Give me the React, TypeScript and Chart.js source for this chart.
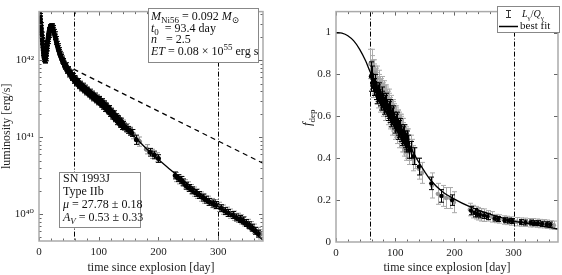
import React, { useEffect, useRef } from 'react';
import { Chart, registerables } from 'chart.js';
Chart.register(...registerables);

const SERIF = '"Liberation Serif", "DejaVu Serif", serif';

// ---------- shared axis values ----------
const timeTicks = [0, 100, 200, 300];
const lumTicks = [1e40, 1e41, 1e42];
const fdepTicks = [0, 0.2, 0.4, 0.6, 0.8, 1];
const markerDays = [58, 300];

// ---------- left panel: luminosity (day, L [erg/s], error in dex) ----------
const lumEarly: [number, number, number][] = [
  [0.5, 4.4e42, 0.035], [1, 4.1e42, 0.035], [1.5, 3.75e42, 0.035], [2, 3.45e42, 0.035], [2.5, 3.15e42, 0.035],
  [3, 2.85e42, 0.035], [3.5, 2.6e42, 0.035], [4, 2.35e42, 0.035], [4.5, 2.15e42, 0.035], [5, 1.95e42, 0.035],
  [5.5, 1.78e42, 0.035], [6, 1.62e42, 0.035], [6.5, 1.48e42, 0.035], [7, 1.36e42, 0.035], [7.5, 1.25e42, 0.035],
  [8, 1.16e42, 0.035], [8.5, 1.09e42, 0.035], [9, 1.04e42, 0.035], [9.5, 1.01e42, 0.035], [10, 1.0e42, 0.035],
  [10.5, 1.02e42, 0.035], [11, 1.07e42, 0.035], [11.5, 1.14e42, 0.035], [12, 1.23e42, 0.035], [12.5, 1.33e42, 0.035],
  [13, 1.44e42, 0.035], [13.5, 1.55e42, 0.035], [14, 1.67e42, 0.035], [14.5, 1.79e42, 0.035], [15, 1.91e42, 0.035],
  [15.5, 2.03e42, 0.035], [16, 2.15e42, 0.035], [16.5, 2.26e42, 0.035], [17, 2.37e42, 0.035], [17.5, 2.47e42, 0.035],
  [18, 2.56e42, 0.035], [18.5, 2.63e42, 0.035], [19, 2.69e42, 0.035], [19.5, 2.73e42, 0.035], [20, 2.75e42, 0.035],
  [21, 2.76e42, 0.035], [22, 2.72e42, 0.035], [23, 2.62e42, 0.035], [24, 2.48e42, 0.035], [25, 2.33e42, 0.035],
  [26, 2.17e42, 0.035], [27, 2.02e42, 0.035], [28, 1.88e42, 0.035], [29, 1.75e42, 0.035], [30, 1.63e42, 0.035],
  [31, 1.52e42, 0.035], [32, 1.43e42, 0.035], [33, 1.35e42, 0.035], [34, 1.28e42, 0.035], [35, 1.21e42, 0.035],
  [36, 1.15e42, 0.035], [37, 1.1e42, 0.035], [38, 1.05e42, 0.035], [39, 1.0e42, 0.035],
];
const lumMid: [number, number, number][] = [
  [40, 9.6e41, 0.035], [42, 9.0e41, 0.035], [44, 8.45e41, 0.035], [46, 7.95e41, 0.035], [48, 7.5e41, 0.035],
  [50, 7.1e41, 0.035], [52, 6.75e41, 0.035], [54, 6.4e41, 0.035], [56, 6.1e41, 0.035], [58, 5.85e41, 0.035],
  [60, 5.6e41, 0.035], [62, 5.4e41, 0.035], [64, 5.2e41, 0.035], [66, 5.0e41, 0.035], [68, 4.8e41, 0.035],
  [70, 4.65e41, 0.035], [72, 4.5e41, 0.035], [74, 4.38e41, 0.035], [76, 4.25e41, 0.035], [78, 4.13e41, 0.035],
  [80, 4.0e41, 0.035], [82, 3.88e41, 0.035], [84, 3.77e41, 0.035], [86, 3.66e41, 0.035], [88, 3.55e41, 0.035],
  [90, 3.45e41, 0.035], [92, 3.35e41, 0.035], [94, 3.25e41, 0.035], [96, 3.16e41, 0.035], [98, 3.07e41, 0.035],
  [100, 2.98e41, 0.04], [102, 2.9e41, 0.04], [104, 2.8e41, 0.04], [106, 2.72e41, 0.04], [108, 2.63e41, 0.04],
  [110, 2.55e41, 0.04], [112, 2.47e41, 0.04], [114, 2.38e41, 0.04], [116, 2.3e41, 0.04], [118, 2.2e41, 0.04],
  [120, 2.12e41, 0.04], [122, 2.04e41, 0.04], [124, 1.96e41, 0.04], [126, 1.88e41, 0.04], [128, 1.8e41, 0.04],
  [130, 1.73e41, 0.045], [132, 1.67e41, 0.045], [134, 1.61e41, 0.045], [136, 1.55e41, 0.045], [138, 1.5e41, 0.045],
  [140, 1.45e41, 0.045], [143, 1.38e41, 0.045], [146, 1.31e41, 0.045], [149, 1.25e41, 0.045], [152, 1.19e41, 0.045],
  [155, 1.14e41, 0.045],
];
// band edges (upper / lower scatter of the dense black band)
const lumMidEdge: [number, number, number][] = [
  [41, 9.75e41, 0.035], [43, 8.3e41, 0.035], [45, 8.6e41, 0.035], [47, 7.35e41, 0.035], [49, 7.65e41, 0.035],
  [51, 6.6e41, 0.035], [53, 6.9e41, 0.035], [55, 5.95e41, 0.035], [57, 6.25e41, 0.035], [59, 5.45e41, 0.035],
  [61, 5.78e41, 0.035], [63, 5.05e41, 0.035], [65, 5.35e41, 0.035], [67, 4.65e41, 0.035], [69, 4.95e41, 0.035],
  [71, 4.35e41, 0.035], [73, 4.66e41, 0.035], [75, 4.1e41, 0.035], [77, 4.4e41, 0.035], [79, 3.86e41, 0.035],
  [81, 4.14e41, 0.035], [83, 3.63e41, 0.035], [85, 3.9e41, 0.035], [87, 3.42e41, 0.035], [89, 3.68e41, 0.035],
  [91, 3.23e41, 0.035], [93, 3.47e41, 0.035], [95, 3.04e41, 0.035], [97, 3.27e41, 0.035], [99, 2.87e41, 0.035],
  [101, 3.09e41, 0.04], [103, 2.71e41, 0.04], [105, 2.9e41, 0.04], [107, 2.54e41, 0.04], [109, 2.72e41, 0.04],
  [111, 2.38e41, 0.04], [113, 2.54e41, 0.04], [115, 2.22e41, 0.04], [117, 2.36e41, 0.04], [119, 2.05e41, 0.04],
  [121, 2.18e41, 0.04], [123, 1.9e41, 0.04], [125, 2.02e41, 0.04], [127, 1.75e41, 0.04], [129, 1.85e41, 0.04],
  [131, 1.62e41, 0.045], [133, 1.72e41, 0.045], [135, 1.5e41, 0.045], [137, 1.6e41, 0.045], [139, 1.4e41, 0.045],
];
const lumLate: [number, number, number][] = [
  [163, 9.3e40, 0.06], [186, 6.4e40, 0.05], [193, 5.9e40, 0.05], [200, 5.3e40, 0.05], [228, 3.2e40, 0.045],
  [233, 2.95e40, 0.045], [237, 2.8e40, 0.045], [241, 2.6e40, 0.045], [246, 2.35e40, 0.045], [251, 2.2e40, 0.045],
  [256, 2.05e40, 0.045], [262, 1.9e40, 0.045], [268, 1.78e40, 0.045], [274, 1.65e40, 0.045], [279, 1.55e40, 0.045],
  [285, 1.45e40, 0.045], [291, 1.38e40, 0.045], [296, 1.32e40, 0.045], [305, 1.2e40, 0.045], [311, 1.1e40, 0.045],
  [317, 1.04e40, 0.045], [324, 9.8e39, 0.045], [330, 9.1e39, 0.045], [336, 8.7e39, 0.045], [341, 8.3e39, 0.045],
  [347, 7.7e39, 0.045], [352, 7.2e39, 0.045], [357, 6.7e39, 0.045], [362, 6.1e39, 0.045], [367, 5.6e39, 0.045],
];
const lumGray: [number, number, number][] = [
  [100, 3.05e41, 0.05], [106, 2.78e41, 0.05], [112, 2.42e41, 0.05], [118, 2.25e41, 0.05], [124, 1.92e41, 0.05],
  [130, 1.78e41, 0.05], [135, 1.58e41, 0.055], [141, 1.48e41, 0.055], [147, 1.33e41, 0.055], [153, 1.2e41, 0.055],
  [158, 1.1e41, 0.06], [168, 8.8e40, 0.06], [180, 7.0e40, 0.06], [190, 6.1e40, 0.06], [198, 5.5e40, 0.06],
  [230, 3.05e40, 0.06], [235, 2.85e40, 0.06], [239, 2.7e40, 0.06], [244, 2.45e40, 0.06], [249, 2.3e40, 0.06],
  [254, 2.12e40, 0.06], [259, 1.97e40, 0.06], [265, 1.85e40, 0.06], [271, 1.7e40, 0.06], [277, 1.6e40, 0.06],
  [283, 1.5e40, 0.06], [289, 1.4e40, 0.06], [294, 1.35e40, 0.06], [302, 1.25e40, 0.06], [308, 1.15e40, 0.06],
  [314, 1.08e40, 0.06], [320, 1.02e40, 0.06], [327, 9.6e39, 0.06], [333, 9.0e39, 0.06], [339, 8.6e39, 0.06],
  [344, 8.1e39, 0.06], [350, 7.5e39, 0.06], [355, 7.0e39, 0.06], [360, 6.5e39, 0.06], [366, 5.9e39, 0.06],
  [370, 5.5e39, 0.06],
];
const lumFitDays = [58, 80, 100, 120, 140, 160, 180, 200, 220, 240, 260, 280, 300, 320, 340, 360, 375];
const lumFitValues = [5.9e41, 4.0e41, 2.95e41, 2.1e41, 1.45e41, 1.02e41, 7.1e40, 5.15e40, 3.8e40, 2.82e40,
  2.14e40, 1.62e40, 1.26e40, 9.8e39, 7.6e39, 5.8e39, 4.6e39];
const fullTrapDays = [58, 375];
const fullTrapValues = [7.7e41, 4.6e40];

// ---------- right panel: deposition fraction (day, f, error) ----------
const fdepGray: [number, number, number][] = [
  [58, 0.85, 0.07], [60, 0.82, 0.07], [62, 0.8, 0.07], [64, 0.78, 0.07], [66, 0.77, 0.07], [68, 0.76, 0.07],
  [70, 0.74, 0.07], [72, 0.73, 0.07], [74, 0.72, 0.07], [76, 0.71, 0.07], [78, 0.7, 0.07], [80, 0.69, 0.07],
  [82, 0.68, 0.07], [84, 0.67, 0.07], [86, 0.66, 0.07], [88, 0.65, 0.07], [90, 0.64, 0.07], [92, 0.62, 0.07],
  [94, 0.61, 0.07], [96, 0.6, 0.07], [98, 0.59, 0.07], [100, 0.58, 0.07], [102, 0.57, 0.07], [104, 0.56, 0.07],
  [106, 0.55, 0.07], [108, 0.54, 0.07], [110, 0.53, 0.07], [112, 0.52, 0.07], [114, 0.5, 0.07], [116, 0.49, 0.07],
  [118, 0.48, 0.07], [120, 0.47, 0.07], [124, 0.45, 0.06], [128, 0.43, 0.06], [133, 0.4, 0.05], [140, 0.35, 0.05],
  [145, 0.33, 0.05], [162, 0.27, 0.06], [172, 0.23, 0.05], [180, 0.22, 0.05], [186, 0.21, 0.05], [193, 0.21, 0.05],
  [199, 0.19, 0.05], [226, 0.155, 0.03], [231, 0.145, 0.03], [236, 0.14, 0.03], [240, 0.135, 0.03], [245, 0.13, 0.03],
  [250, 0.128, 0.03], [256, 0.125, 0.025], [263, 0.12, 0.025], [270, 0.112, 0.02], [276, 0.11, 0.02], [283, 0.105, 0.02],
  [289, 0.103, 0.02], [295, 0.1, 0.02], [305, 0.097, 0.02], [312, 0.095, 0.02], [320, 0.094, 0.02], [327, 0.092, 0.02],
  [333, 0.092, 0.02], [339, 0.09, 0.02], [345, 0.088, 0.02], [351, 0.087, 0.02], [357, 0.085, 0.02], [363, 0.082, 0.02],
  [368, 0.08, 0.02],
];
const fdepGrayEdge: [number, number, number][] = [
  [61, 0.86, 0.06], [63, 0.75, 0.06], [65, 0.81, 0.06], [67, 0.72, 0.06], [69, 0.78, 0.06], [71, 0.7, 0.06],
  [73, 0.76, 0.06], [75, 0.68, 0.06], [77, 0.73, 0.06], [79, 0.66, 0.06], [81, 0.71, 0.06], [83, 0.64, 0.06],
  [85, 0.69, 0.06], [87, 0.62, 0.06], [89, 0.67, 0.06], [91, 0.6, 0.06], [93, 0.64, 0.06], [95, 0.57, 0.06],
  [97, 0.62, 0.06], [99, 0.55, 0.06], [101, 0.59, 0.06], [103, 0.53, 0.06], [105, 0.57, 0.06], [107, 0.51, 0.06],
  [109, 0.55, 0.06], [111, 0.49, 0.06], [113, 0.53, 0.06], [115, 0.47, 0.06], [117, 0.5, 0.06], [119, 0.45, 0.06],
  [121, 0.48, 0.06], [123, 0.43, 0.06], [126, 0.45, 0.06], [130, 0.4, 0.06],
];
const fdepBlack: [number, number, number][] = [
  [59, 0.79, 0.07], [62, 0.76, 0.04], [65, 0.74, 0.04], [68, 0.72, 0.04], [71, 0.71, 0.04], [74, 0.69, 0.04],
  [77, 0.68, 0.04], [80, 0.67, 0.04], [83, 0.66, 0.04], [86, 0.64, 0.04], [89, 0.63, 0.04], [92, 0.61, 0.04],
  [95, 0.6, 0.04], [98, 0.58, 0.04], [101, 0.57, 0.04], [104, 0.55, 0.04], [107, 0.54, 0.04], [110, 0.52, 0.04],
  [113, 0.51, 0.04], [116, 0.49, 0.04], [119, 0.48, 0.04], [122, 0.47, 0.04], [126, 0.44, 0.04], [131, 0.41, 0.04],
  [140, 0.36, 0.04], [161, 0.28, 0.03], [178, 0.22, 0.03], [196, 0.2, 0.025], [228, 0.15, 0.02], [234, 0.14, 0.02],
  [238, 0.135, 0.015], [243, 0.13, 0.015], [250, 0.127, 0.015], [256, 0.122, 0.015], [268, 0.112, 0.012],
  [274, 0.11, 0.012], [285, 0.104, 0.012], [292, 0.102, 0.012], [298, 0.1, 0.012], [312, 0.095, 0.012],
  [320, 0.093, 0.012], [329, 0.093, 0.012], [335, 0.09, 0.012], [341, 0.09, 0.012], [348, 0.087, 0.012],
  [356, 0.085, 0.012], [362, 0.083, 0.012],
];
const fdepBlackEdge: [number, number, number][] = [
  [60.5, 0.8, 0.04], [63.5, 0.74, 0.04], [66.5, 0.76, 0.04], [69.5, 0.7, 0.04], [72.5, 0.72, 0.04], [75.5, 0.67, 0.04],
  [78.5, 0.7, 0.04], [81.5, 0.65, 0.04], [84.5, 0.67, 0.04], [87.5, 0.62, 0.04], [90.5, 0.64, 0.04], [93.5, 0.59, 0.04],
  [96.5, 0.61, 0.04], [99.5, 0.56, 0.04], [102.5, 0.58, 0.04], [105.5, 0.53, 0.04], [108.5, 0.55, 0.04], [111.5, 0.5, 0.04],
  [114.5, 0.52, 0.04], [117.5, 0.47, 0.04], [120.5, 0.49, 0.04], [123.5, 0.44, 0.04],
];
const fdepFitDays = [0, 10, 20, 30, 40, 50, 58, 70, 80, 90, 100, 110, 120, 130, 140, 150, 160, 180, 200, 225, 250, 275, 300, 325, 350, 375];
const fdepFitValues = [1, 0.997, 0.985, 0.96, 0.92, 0.865, 0.81, 0.745, 0.695, 0.645, 0.595, 0.54, 0.485, 0.43,
  0.38, 0.335, 0.295, 0.24, 0.205, 0.17, 0.143, 0.12, 0.1, 0.088, 0.075, 0.062];

// ---------- helpers ----------
type Seg = [string, string?];
function drawRich(ctx: CanvasRenderingContext2D, segs: Seg[], x: number, y: number, size: number) {
  let cx = x;
  for (const [t, f = ''] of segs) {
    const small = f.includes('b') || f.includes('p');
    const fs = small ? Math.round(size * 0.72) : size;
    ctx.font = `${f.includes('i') ? 'italic ' : ''}${fs}px ${SERIF}`;
    const dy = f.includes('b') ? size * 0.28 : f.includes('p') ? -size * 0.4 : 0;
    ctx.fillText(t, cx, y + dy);
    cx += ctx.measureText(t).width;
  }
}

const SUP: Record<string, string> = { '0': '⁰', '1': '¹', '2': '²', '3': '³', '4': '⁴', '5': '⁵', '6': '⁶', '7': '⁷', '8': '⁸', '9': '⁹' };
const powLabel = (v: number) => '10' + String(Math.round(Math.log10(v))).split('').map((c) => SUP[c]).join('');

const errorBarPlugin = {
  id: 'errbars',
  beforeDatasetDraw(chart: any, args: any) {
    const ds: any = chart.data.datasets[args.index];
    if (!ds.errors) return;
    const { ctx, chartArea: a } = chart;
    const xs = chart.scales.x, ys = chart.scales.y;
    ctx.save();
    ctx.beginPath();
    ctx.rect(a.left, a.top, a.right - a.left, a.bottom - a.top);
    ctx.clip();
    ctx.strokeStyle = ds.errColor;
    ctx.lineWidth = 1;
    ctx.beginPath();
    ds.data.forEach((p: any, i: number) => {
      const e = ds.errors[i];
      const lo = ds.errLog ? p.y / Math.pow(10, e) : p.y - e;
      const hi = ds.errLog ? p.y * Math.pow(10, e) : p.y + e;
      const x = Math.round(xs.getPixelForValue(p.x)) + 0.5;
      const y1 = ys.getPixelForValue(lo), y2 = ys.getPixelForValue(hi);
      ctx.moveTo(x, y1); ctx.lineTo(x, y2);
      ctx.moveTo(x - 2.5, y1); ctx.lineTo(x + 2.5, y1);
      ctx.moveTo(x - 2.5, y2); ctx.lineTo(x + 2.5, y2);
    });
    ctx.stroke();
    ctx.restore();
  },
};

function makeFramePlugin(yMajor: number[], yMinor: number[], decorate: (ctx: CanvasRenderingContext2D, chart: any) => void) {
  return {
    id: 'frame',
    beforeDatasetsDraw(chart: any) {
      const { ctx, chartArea: a, scales } = chart;
      ctx.save();
      ctx.strokeStyle = '#000';
      ctx.lineWidth = 1;
      ctx.setLineDash([5, 2, 1, 2]);
      for (const d of markerDays) {
        const x = Math.round(scales.x.getPixelForValue(d)) + 0.5;
        ctx.beginPath(); ctx.moveTo(x, a.top); ctx.lineTo(x, a.bottom); ctx.stroke();
      }
      ctx.restore();
    },
    afterDraw(chart: any) {
      const { ctx, chartArea: a, scales } = chart;
      ctx.save();
      ctx.strokeStyle = '#666';
      ctx.lineWidth = 1;
      ctx.beginPath();
      for (let d = 0; d <= 375; d += 20) {
        const x = Math.round(scales.x.getPixelForValue(d)) + 0.5;
        const len = d % 100 === 0 ? 4 : 2.5;
        ctx.moveTo(x, a.bottom); ctx.lineTo(x, a.bottom - len);
        ctx.moveTo(x, a.top); ctx.lineTo(x, a.top + len);
      }
      const yt = (v: number, len: number) => {
        const y = Math.round(scales.y.getPixelForValue(v)) + 0.5;
        if (y < a.top || y > a.bottom) return;
        ctx.moveTo(a.left, y); ctx.lineTo(a.left + len, y);
        ctx.moveTo(a.right, y); ctx.lineTo(a.right - len, y);
      };
      yMajor.forEach((v) => yt(v, 4));
      yMinor.forEach((v) => yt(v, 2.5));
      ctx.stroke();
      ctx.strokeStyle = '#aaa';
      ctx.lineWidth = 1.5;
      ctx.strokeRect(a.left, a.top, a.right - a.left, a.bottom - a.top);
      ctx.restore();
      ctx.save();
      ctx.fillStyle = '#111';
      ctx.textBaseline = 'alphabetic';
      decorate(ctx, chart);
      ctx.restore();
    },
  };
}

const tickFont = { family: SERIF, size: 11 };
function timeAxis(height: number) {
  return {
    type: 'linear' as const,
    min: 0,
    max: 375,
    afterBuildTicks: (s: any) => { s.ticks = timeTicks.map((v) => ({ value: v })); },
    afterFit: (s: any) => { s.height = height; },
    grid: { display: false, drawTicks: false },
    border: { display: false },
    ticks: { font: tickFont, color: '#222', padding: 5, maxRotation: 0, autoSkip: false, callback: (v: any) => String(v) },
    title: { display: true, text: 'time since explosion [day]', font: { family: SERIF, size: 12 }, color: '#222', padding: { top: 0, bottom: 0 } },
  };
}

const pts = (rows: [number, number, number][]) => rows.map((r) => ({ x: r[0], y: r[1] }));
const errs = (rows: [number, number, number][]) => rows.map((r) => r[2]);
const zip = (xs: number[], ys: number[]) => xs.map((x, i) => ({ x, y: ys[i] }));

function leftConfig(): any {
  const blackRows = [...lumEarly, ...lumMid, ...lumMidEdge, ...lumLate];
  const lumMinor: number[] = [];
  for (const dec of [1e39, 1e40, 1e41, 1e42]) for (let k = 2; k <= 9; k++) lumMinor.push(k * dec);
  return {
    type: 'scatter',
    data: {
      datasets: [
        { data: zip(lumFitDays, lumFitValues), showLine: true, borderColor: '#000', borderWidth: 1.3, pointRadius: 0, tension: 0.4, order: 0 },
        { data: pts(blackRows), errors: errs(blackRows), errLog: true, errColor: '#000', backgroundColor: '#000', borderColor: '#000', pointRadius: 2.5, borderWidth: 0, order: 1 },
        { data: pts(lumGray), errors: errs(lumGray), errLog: true, errColor: '#999', backgroundColor: '#888', borderColor: '#555', pointRadius: 2.3, borderWidth: 0.5, order: 2 },
        { data: zip(fullTrapDays, fullTrapValues), showLine: true, borderColor: '#000', borderWidth: 1.3, borderDash: [5, 4], pointRadius: 0, order: 3 },
      ],
    },
    options: {
      animation: false,
      responsive: false,
      layout: { padding: { left: 0, right: 17, top: 1, bottom: 0 } },
      plugins: { legend: { display: false }, tooltip: { enabled: false } },
      scales: {
        x: timeAxis(34),
        y: {
          type: 'logarithmic',
          min: 4.5e39,
          max: 4.3e42,
          afterBuildTicks: (s: any) => { s.ticks = lumTicks.map((v) => ({ value: v })); },
          afterFit: (s: any) => { s.width = 39; },
          grid: { display: false, drawTicks: false },
          border: { display: false },
          ticks: { font: tickFont, color: '#222', padding: 5, autoSkip: false, callback: (v: any) => powLabel(v) },
          title: { display: true, text: 'luminosity [erg/s]', font: { family: SERIF, size: 12 }, color: '#222', padding: { top: 0, bottom: 0 } },
        },
      },
    },
    plugins: [
      errorBarPlugin,
      makeFramePlugin(lumTicks, lumMinor, (ctx) => {
        ctx.fillStyle = '#fff';
        ctx.fillRect(148, 8, 110, 54);
        ctx.fillRect(59, 172, 81, 55);
        ctx.strokeStyle = '#888';
        ctx.lineWidth = 1;
        ctx.strokeRect(148.5, 8.5, 110, 54);
        ctx.strokeRect(59.5, 172.5, 81, 55);
        ctx.fillStyle = '#111';
        const s = 12;
        drawRich(ctx, [['M', 'i'], ['Ni56', 'b'], [' = 0.092 '], ['M', 'i'], ['⊙', 'b']], 151, 20, s);
        drawRich(ctx, [['t', 'i'], ['0', 'b'], ['  = 93.4 day']], 151, 31.5, s);
        drawRich(ctx, [['n', 'i'], ['   = 2.5']], 151, 43, s);
        drawRich(ctx, [['ET', 'i'], [' = 0.08 × 10'], ['55', 'p'], [' erg s']], 151, 55, s);
        drawRich(ctx, [['SN 1993J']], 63, 182, s);
        drawRich(ctx, [['Type IIb']], 63, 195, s);
        drawRich(ctx, [['μ', 'i'], [' = 27.78 ± 0.18']], 63, 208, s);
        drawRich(ctx, [['A', 'i'], ['V', 'ib'], [' = 0.53 ± 0.33']], 63, 221, s);
      }),
    ],
  };
}

function rightConfig(): any {
  const blackRows = [...fdepBlack, ...fdepBlackEdge];
  const grayRows = [...fdepGray, ...fdepGrayEdge];
  return {
    type: 'scatter',
    data: {
      datasets: [
        { data: zip(fdepFitDays, fdepFitValues), showLine: true, borderColor: '#000', borderWidth: 1.3, pointRadius: 0, cubicInterpolationMode: 'monotone', order: 0 },
        { data: pts(blackRows), errors: errs(blackRows), errLog: false, errColor: '#000', backgroundColor: '#000', pointRadius: 2.2, borderWidth: 0, order: 1 },
        { data: pts(grayRows), errors: errs(grayRows), errLog: false, errColor: '#aaa', backgroundColor: '#999', pointRadius: 2.2, borderWidth: 0, order: 2 },
      ],
    },
    options: {
      animation: false,
      responsive: false,
      layout: { padding: { left: 0, right: 1, top: 1, bottom: 0 } },
      plugins: { legend: { display: false }, tooltip: { enabled: false } },
      scales: {
        x: timeAxis(33),
        y: {
          type: 'linear',
          min: 0,
          max: 1.1,
          afterBuildTicks: (s: any) => { s.ticks = fdepTicks.map((v) => ({ value: v })); },
          afterFit: (s: any) => { s.width = 56; },
          grid: { display: false, drawTicks: false },
          border: { display: false },
          ticks: { font: tickFont, color: '#222', padding: 5, autoSkip: false, callback: (v: any) => String(Math.round(v * 10) / 10) },
          title: { display: false },
        },
      },
    },
    plugins: [
      errorBarPlugin,
      makeFramePlugin(fdepTicks, [], (ctx) => {
        // y-axis title f_dep
        ctx.save();
        ctx.translate(31, 116);
        ctx.rotate(-Math.PI / 2);
        drawRich(ctx, [['f', 'i'], ['dep', 'b']], -10, 0, 13);
        ctx.restore();
        // legend
        ctx.fillStyle = '#fff';
        ctx.fillRect(217, 6, 62, 26);
        ctx.strokeStyle = '#888';
        ctx.lineWidth = 1;
        ctx.strokeRect(217.5, 6.5, 62, 26);
        ctx.strokeStyle = '#333';
        ctx.beginPath();
        ctx.moveTo(228.5, 10); ctx.lineTo(228.5, 18);
        ctx.moveTo(226, 10.5); ctx.lineTo(231, 10.5);
        ctx.moveTo(226, 17.5); ctx.lineTo(231, 17.5);
        ctx.stroke();
        ctx.strokeStyle = '#000';
        ctx.lineWidth = 1.5;
        ctx.beginPath();
        ctx.moveTo(219, 26.5); ctx.lineTo(238, 26.5);
        ctx.stroke();
        ctx.fillStyle = '#111';
        drawRich(ctx, [['L', 'i'], ['γ', 'b'], ['/'], ['Q', 'i'], ['γ', 'b']], 242, 17, 10);
        drawRich(ctx, [['best fit']], 240, 29, 11);
      }),
    ],
  };
}

export default function App() {
  const leftRef = useRef<HTMLCanvasElement>(null);
  const rightRef = useRef<HTMLCanvasElement>(null);
  useEffect(() => {
    const c1 = new Chart(leftRef.current as HTMLCanvasElement, leftConfig());
    const c2 = new Chart(rightRef.current as HTMLCanvasElement, rightConfig());
    return () => { c1.destroy(); c2.destroy(); };
  }, []);
  return (
    <div style={{ position: 'fixed', left: 0, top: 0, width: 562, height: 275, background: '#fff' }}>
      <canvas ref={leftRef} width={280} height={275} style={{ position: 'absolute', left: 0, top: 0, width: 280, height: 275 }} />
      <canvas ref={rightRef} width={282} height={275} style={{ position: 'absolute', left: 280, top: 0, width: 282, height: 275 }} />
    </div>
  );
}
